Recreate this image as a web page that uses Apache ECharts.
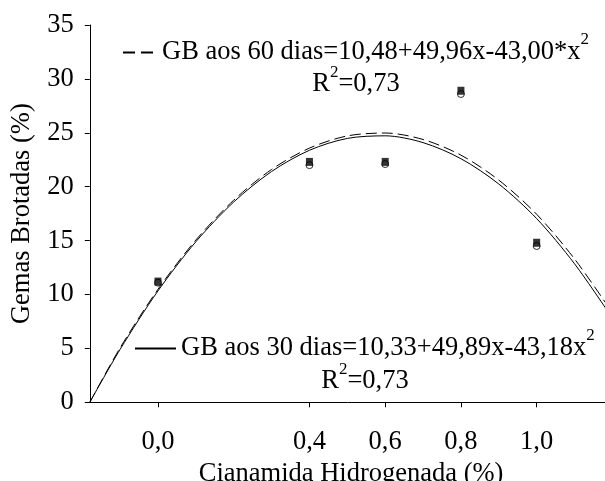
<!DOCTYPE html>
<html><head><meta charset="utf-8">
<script src="https://cdn.jsdelivr.net/npm/echarts@6/dist/echarts.min.js"></script>
<style>html,body{margin:0;padding:0;background:#fff}#c{width:605px;height:481px}</style>
</head><body><div id="c"></div>
<script>
// ---- data ----
const xTicks = [0, 0.4, 0.6, 0.8, 1.0];
const xTickLabels = ['0,0', '0,4', '0,6', '0,8', '1,0'];
const doses = [0, 0.4, 0.6, 0.8, 1.0];
const gb60Points = [11.2, 22.3, 22.3, 28.9, 14.8];
const gb30Points = [11.1, 22.0, 22.1, 28.6, 14.5];
const curveX = [-0.18, -0.1, 0, 0.1, 0.2, 0.3, 0.4, 0.5, 0.6, 0.7, 0.8, 0.9, 1.0, 1.1, 1.2];
const gb60Curve = [0.0, 5.05, 10.48, 15.05, 18.75, 21.6, 23.58, 24.71, 24.98, 24.38, 22.93, 20.61, 17.44, 13.3, 8.3];
const gb30Curve = [0.0, 4.91, 10.33, 14.89, 18.58, 21.41, 23.38, 24.48, 24.72, 24.09, 22.6, 20.25, 17.04, 12.85, 7.8];
const seriesNames = ['GB aos 60 dias', 'GB aos 30 dias'];
const equations = ['=10,48+49,96x-43,00*x', '=10,33+49,89x-43,18x'];
const r2Text = ['=0,73', '=0,73'];
const xName = 'Cianamida Hidrogenada (%)';
const yName = 'Gemas Brotadas (%)';

const FONT = 'Liberation Serif';
const richLegend = {
  t: { fontFamily: FONT, fontSize: 26.5, color: '#000' },
  sup: { fontFamily: FONT, fontSize: 17, color: '#000', padding: [0, 0, 26, 0] }
};
const richR2 = {
  t: { fontFamily: FONT, fontSize: 26.5, color: '#000' },
  sup: { fontFamily: FONT, fontSize: 17, color: '#000', padding: [0, 0, 22, 0] }
};
const pair = (xs, ys) => xs.map((x, i) => [x, ys[i]]);

const chart = echarts.init(document.getElementById('c'), null, { renderer: 'canvas' });
chart.setOption({
  animation: false,
  backgroundColor: '#fff',
  grid: { left: 89.8, top: 25, width: 522.6, height: 377.3, containLabel: false, outerBoundsMode: 'none' },
  xAxis: {
    type: 'value', min: -0.18, max: 1.2,
    name: xName, nameLocation: 'middle', nameGap: 56,
    nameTextStyle: { fontFamily: FONT, fontSize: 26.5, color: '#000' },
    axisLine: { onZero: false, lineStyle: { color: '#000', width: 1 } },
    axisTick: { customValues: xTicks, length: 5, lineStyle: { color: '#000' } },
    axisLabel: {
      customValues: xTicks, margin: 26, fontFamily: FONT, fontSize: 26.5, color: '#000',
      formatter: v => { let k = xTicks.findIndex(t => Math.abs(t - v) < 1e-6); return k >= 0 ? xTickLabels[k] : ''; }
    },
    splitLine: { show: false }
  },
  yAxis: {
    type: 'value', min: 0, max: 35, interval: 5,
    name: yName, nameLocation: 'middle', nameGap: 54,
    nameTextStyle: { fontFamily: FONT, fontSize: 26.5, color: '#000' },
    axisLine: { show: true, onZero: false, lineStyle: { color: '#000', width: 1 } },
    axisTick: { show: true, length: 5, lineStyle: { color: '#000' } },
    axisLabel: { margin: 16, fontFamily: FONT, fontSize: 26.5, color: '#000' },
    splitLine: { show: false }
  },
  legend: [
    {
      data: [seriesNames[0]], left: 122, top: 31, padding: 0, itemWidth: 34, itemHeight: 14,
      selectedMode: false,
      itemStyle: { color: 'transparent', borderColor: 'transparent', borderWidth: 0 },
      lineStyle: { type: [12, 6] },
      formatter: n => '{t|' + n + equations[0] + '}{sup|2}',
      textStyle: { rich: richLegend }
    },
    {
      data: [seriesNames[1]], left: 134, top: 327, padding: 0, itemWidth: 41, itemHeight: 14,
      selectedMode: false,
      itemStyle: { color: 'transparent', borderColor: 'transparent', borderWidth: 0 },
      formatter: n => '{t|' + n + equations[1] + '}{sup|2}',
      textStyle: { rich: richLegend }
    }
  ],
  graphic: [
    { type: 'text', x: 356, y: 84, style: { text: '{t|R}{sup|2}{t|' + r2Text[0] + '}', rich: richR2, align: 'center', verticalAlign: 'middle' } },
    { type: 'text', x: 365, y: 381, style: { text: '{t|R}{sup|2}{t|' + r2Text[1] + '}', rich: richR2, align: 'center', verticalAlign: 'middle' } }
  ],
  series: [
    {
      name: seriesNames[1], type: 'line', data: pair(curveX, gb30Curve), smooth: 0.3,
      symbol: 'none', itemStyle: { color: '#000' }, lineStyle: { color: '#000', width: 1, type: 'solid' }, z: 3
    },
    {
      name: seriesNames[0], type: 'line', data: pair(curveX, gb60Curve), smooth: 0.3,
      symbol: 'none', itemStyle: { color: '#000' }, lineStyle: { color: '#000', width: 1, type: [11, 5] }, z: 3
    },
    {
      name: 'pts30', type: 'scatter', data: pair(doses, gb30Points), symbol: 'circle', symbolSize: 7,
      itemStyle: { color: '#fff', borderColor: '#000', borderWidth: 1 }, z: 4
    },
    {
      name: 'pts60', type: 'scatter', data: pair(doses, gb60Points), symbol: 'rect', symbolSize: [7, 8],
      itemStyle: { color: '#000' }, z: 5
    }
  ]
});
</script></body></html>
